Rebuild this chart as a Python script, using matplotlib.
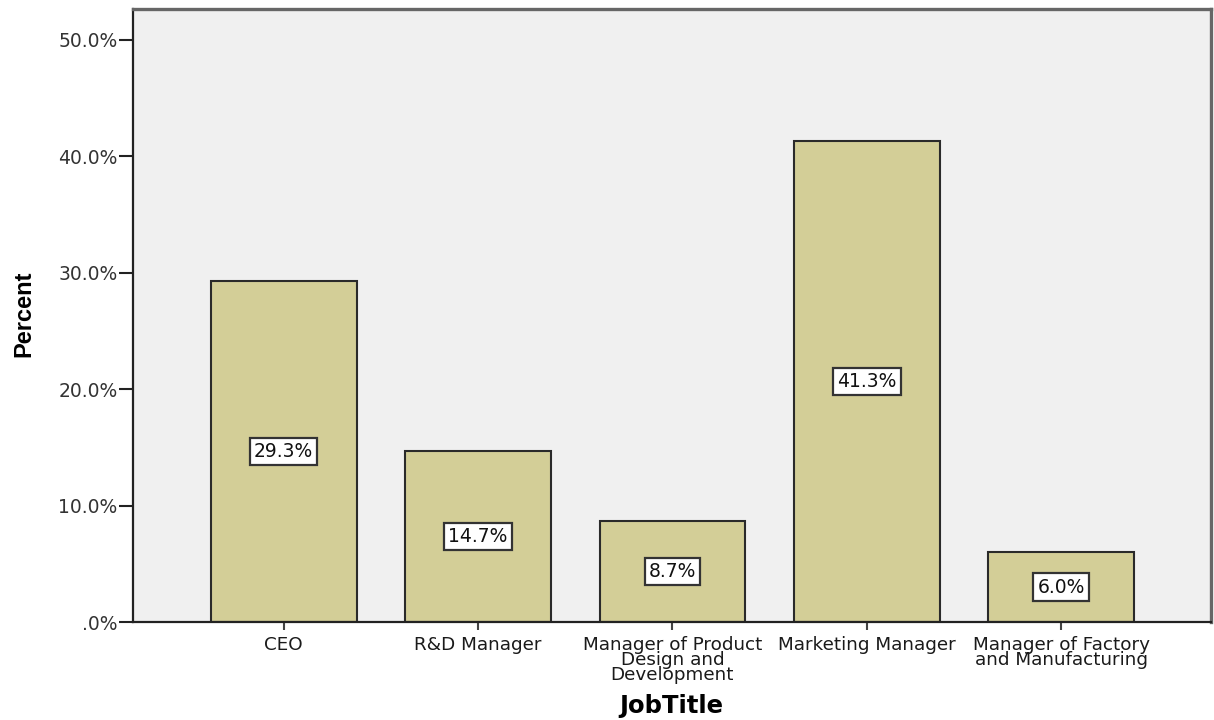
import matplotlib.pyplot as plt
from matplotlib.ticker import FuncFormatter

plt.rcParams['font.family'] = ['DejaVu Sans']

job_titles = ['CEO', 'R&D Manager', 'Manager of Product\nDesign and\nDevelopment',
              'Marketing Manager', 'Manager of Factory\nand Manufacturing']
percents = [29.3, 14.7, 8.7, 41.3, 6.0]
y_ticks = [0, 10, 20, 30, 40, 50]

fig = plt.figure(figsize=(12.14, 7.2), dpi=100)
ax = fig.add_axes([133 / 1214, 1 - 622 / 720, 1078 / 1214, 613 / 720])
ax.set_facecolor('#F0F0F0')

x = list(range(len(job_titles)))
bars = ax.bar(x, percents, width=0.75, color='#D3CE97', edgecolor='#2a2a2a', linewidth=1.5)

# value labels in white boxes at half bar height
for rect, p in zip(bars, percents):
    ax.text(rect.get_x() + rect.get_width() / 2, p / 2, f'{p:.1f}%',
            ha='center', va='center', fontsize=13.5, color='#111111',
            bbox=dict(boxstyle='square,pad=0.22', facecolor='white', edgecolor='#333333', linewidth=1.6))

ax.set_xlim(-0.775, 4.77)
ax.set_ylim(0, 52.66)
ax.set_yticks(y_ticks)
ax.yaxis.set_major_formatter(FuncFormatter(lambda v, _: '.0%' if v == 0 else f'{v:.1f}%'))
ax.set_xticks(x)
ax.set_xticklabels(job_titles, fontsize=13.2, linespacing=0.8)
ax.tick_params(axis='y', labelsize=13.5, length=10, width=1.5, colors='#222222', labelcolor='#333333', pad=1)
ax.tick_params(axis='x', length=6, width=1.5, colors='#444444', labelcolor='#1a1a1a', pad=4)

for side in ['left', 'bottom']:
    ax.spines[side].set_color('#222222')
    ax.spines[side].set_linewidth(1.6)
for side in ['top', 'right']:
    ax.spines[side].set_color('#666666')
    ax.spines[side].set_linewidth(2.4)

ax.set_ylabel('Percent', family=['Liberation Sans', 'DejaVu Sans'],
              fontsize=17, fontweight='bold')
ax.yaxis.set_label_coords(-0.0909, 0.503)
ax.set_xlabel('JobTitle', fontsize=17.5, fontweight='bold')
ax.xaxis.set_label_coords(0.4995, -0.117)

fig.savefig('out.png', dpi=100)
